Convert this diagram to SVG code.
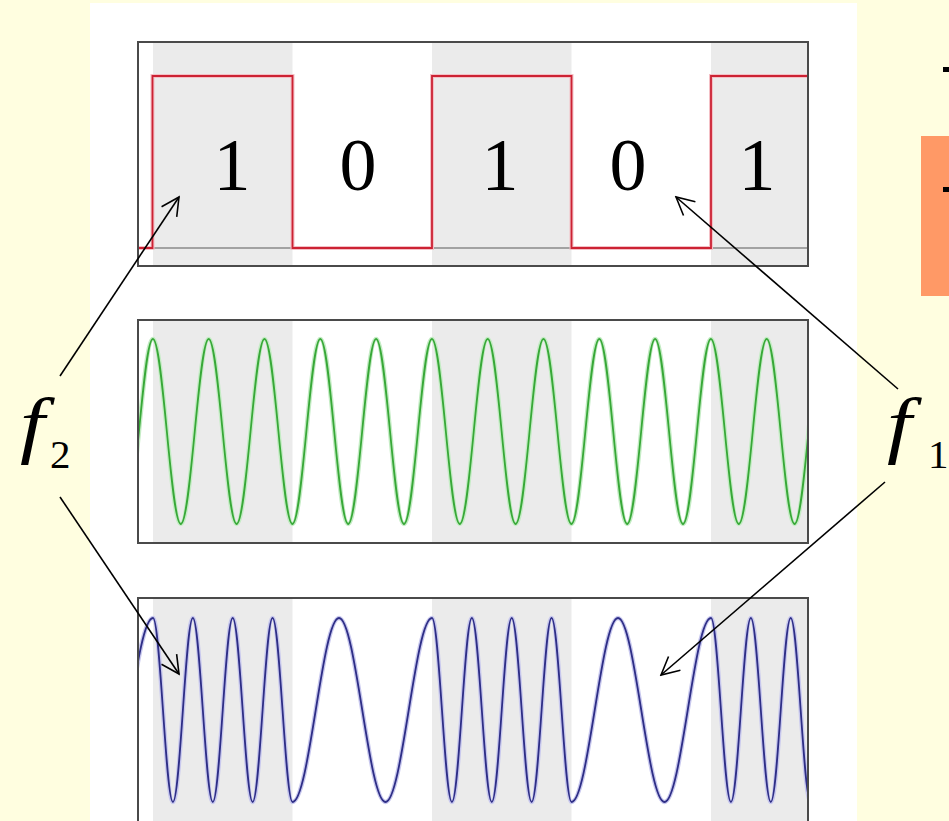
<svg xmlns="http://www.w3.org/2000/svg" width="949" height="821" viewBox="0 0 949 821">
<style>
.box{fill:none;stroke:#4a4a4a;stroke-width:2}
.shade{fill:#ebebeb}
.digit{font-family:"Liberation Serif","Times New Roman",serif;font-size:74px;fill:#000;text-anchor:middle}
.lbl{font-family:"Liberation Serif","Times New Roman",serif;font-style:italic;font-size:74px;fill:#000}
.sub{font-family:"Liberation Serif","Times New Roman",serif;font-size:41px;fill:#000}
.arrow{fill:none;stroke:#000;stroke-width:1.6;marker-end:url(#ah)}
.halo-g{fill:none;stroke:#c4ecc4;stroke-width:4.5}
.wave-g{fill:none;stroke:#38a838;stroke-width:1.8}
.halo-b{fill:none;stroke:#c8c8ee;stroke-width:4.5}
.wave-b{fill:none;stroke:#2e2e86;stroke-width:1.8}
</style>
<defs>
<marker id="ah" viewBox="0 0 22 20" refX="20" refY="10" markerWidth="22" markerHeight="20" markerUnits="userSpaceOnUse" orient="auto">
<path d="M2.2,0.9 L20,10 L2.2,19.1" fill="none" stroke="#000" stroke-width="1.6"/>
</marker>
<clipPath id="c1"><rect x="138" y="42" width="670" height="224"/></clipPath>
<clipPath id="c2"><rect x="138" y="320" width="670" height="223"/></clipPath>
<clipPath id="c3"><rect x="138" y="598" width="670" height="225"/></clipPath>
<path id="gw" d="M125,524 C135.14,524 142.76,339 152.9,339 C163.04,339 170.66,524 180.8,524 C190.94,524 198.56,339 208.7,339 C218.84,339 226.46,524 236.6,524 C246.74,524 254.36,339 264.5,339 C274.64,339 282.26,524 292.4,524 C302.54,524 310.16,339 320.3,339 C330.44,339 338.06,524 348.2,524 C358.34,524 365.96,339 376.1,339 C386.24,339 393.86,524 404,524 C414.14,524 421.76,339 431.9,339 C442.04,339 449.66,524 459.8,524 C469.94,524 477.56,339 487.7,339 C497.84,339 505.46,524 515.6,524 C525.74,524 533.36,339 543.5,339 C553.64,339 561.26,524 571.4,524 C581.54,524 589.16,339 599.3,339 C609.44,339 617.06,524 627.2,524 C637.34,524 644.96,339 655.1,339 C665.24,339 672.86,524 683,524 C693.14,524 700.76,339 710.9,339 C721.04,339 728.66,524 738.8,524 C748.94,524 756.56,339 766.7,339 C776.84,339 784.46,524 794.6,524 C804.74,524 812.36,339 822.5,339"/>
<path id="bw" d="M106.5,802 C123.4,802 136.1,618 153,618 C160.24,618 165.69,802 172.93,802 C180.17,802 185.62,618 192.86,618 C200.1,618 205.55,802 212.79,802 C220.03,802 225.47,618 232.71,618 C239.95,618 245.4,802 252.64,802 C259.88,802 265.33,618 272.57,618 C279.81,618 285.26,802 292.5,802 C309.4,802 322.1,618 339,618 C355.9,618 368.6,802 385.5,802 C402.4,802 415.1,618 432,618 C439.24,618 444.69,802 451.93,802 C459.17,802 464.62,618 471.86,618 C479.1,618 484.55,802 491.79,802 C499.03,802 504.47,618 511.71,618 C518.95,618 524.4,802 531.64,802 C538.88,802 544.33,618 551.57,618 C558.81,618 564.26,802 571.5,802 C588.4,802 601.1,618 618,618 C634.9,618 647.6,802 664.5,802 C681.4,802 694.1,618 711,618 C718.24,618 723.69,802 730.93,802 C738.17,802 743.62,618 750.86,618 C758.1,618 763.55,802 770.79,802 C778.03,802 783.47,618 790.71,618 C797.95,618 803.4,802 810.64,802"/>
</defs>
<rect x="0" y="0" width="949" height="821" fill="#fffee0"/>
<rect x="90" y="3" width="767" height="818" fill="#ffffff"/>
<g id="side">
<rect x="921" y="136" width="28" height="160" fill="#ff9966"/>
<rect x="943" y="67" width="6" height="5" fill="#000"/>
<rect x="943" y="187" width="6" height="5" fill="#000"/>
</g>
<g id="panel-bits">
<g clip-path="url(#c1)">
<rect class="shade" x="153" y="42" width="139.5" height="224"/>
<rect class="shade" x="432" y="42" width="139.5" height="224"/>
<rect class="shade" x="711" y="42" width="97" height="224"/>
<line x1="138" y1="248" x2="808" y2="248" stroke="#8a8a8a" stroke-width="1.5"/>
<path d="M138,248 H152.5 V76 H292.5 V248 H432 V76 H571.5 V248 H711 V76 H810" fill="none" stroke="#f4c0c6" stroke-width="4"/>
<path d="M138,248 H152.5 V76 H292.5 V248 H432 V76 H571.5 V248 H711 V76 H810" fill="none" stroke="#cc2233" stroke-width="1.8"/>
</g>
<rect class="box" x="138" y="42" width="670" height="224"/>
<text class="digit" x="232" y="190">1</text>
<text class="digit" x="358" y="190">0</text>
<text class="digit" x="500" y="190">1</text>
<text class="digit" x="628" y="190">0</text>
<text class="digit" x="757" y="190">1</text>
</g>
<g id="panel-carrier">
<g clip-path="url(#c2)">
<rect class="shade" x="153" y="320" width="139.5" height="223"/>
<rect class="shade" x="432" y="320" width="139.5" height="223"/>
<rect class="shade" x="711" y="320" width="97" height="223"/>
<use href="#gw" class="halo-g"/>
<use href="#gw" class="wave-g"/>
</g>
<rect class="box" x="138" y="320" width="670" height="223"/>
</g>
<g id="panel-fsk">
<g clip-path="url(#c3)">
<rect class="shade" x="153" y="598" width="139.5" height="225"/>
<rect class="shade" x="432" y="598" width="139.5" height="225"/>
<rect class="shade" x="711" y="598" width="97" height="225"/>
<use href="#bw" class="halo-b"/>
<use href="#bw" class="wave-b"/>
</g>
<rect class="box" x="138" y="598" width="670" height="225"/>
</g>
<g id="label-f2">
<text class="lbl" transform="translate(20,449) scale(1.2,1)">f</text>
<text class="sub" x="50" y="468">2</text>
</g>
<g id="label-f1">
<text class="lbl" transform="translate(887,449) scale(1.2,1)">f</text>
<text class="sub" x="928" y="468">1</text>
</g>
<g id="connectors">
<line class="arrow" x1="60" y1="376" x2="179" y2="197"/>
<line class="arrow" x1="60" y1="497" x2="179" y2="674"/>
<line class="arrow" x1="898" y1="389" x2="676" y2="197"/>
<line class="arrow" x1="885" y1="482" x2="661" y2="675"/>
</g>
</svg>
